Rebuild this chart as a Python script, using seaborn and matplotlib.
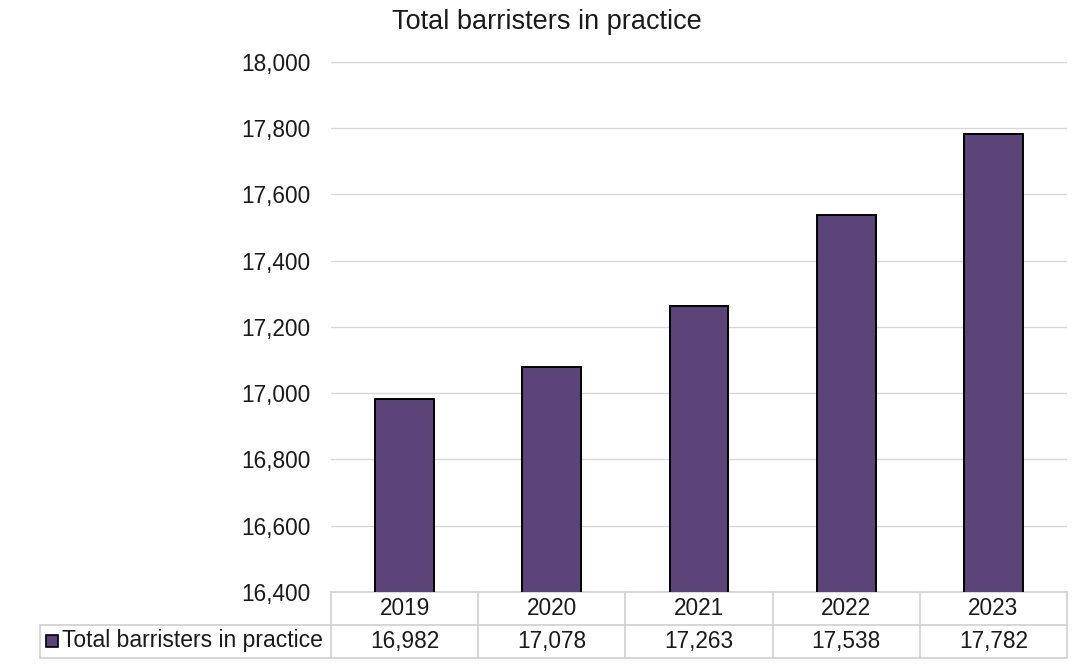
import matplotlib
matplotlib.use("Agg")
import matplotlib.pyplot as plt
import matplotlib.transforms as mtransforms
from matplotlib.patches import Rectangle
import seaborn as sns

years = ["2019", "2020", "2021", "2022", "2023"]
barristers = [16982, 17078, 17263, 17538, 17782]
series_name = "Total barristers in practice"
title = "Total barristers in practice"

bar_color = "#5B4478"
grid_color = "#D9D9D9"
table_color = "#D0D0D0"
text_color = "#1A1A1A"
fs = 16.3

sns.set_style("white")
plt.rcParams["font.family"] = ["Liberation Sans", "DejaVu Sans"]

fig = plt.figure(figsize=(10.75, 6.66), dpi=100)
W, H = 1075, 666
ax = fig.add_axes([331 / W, 1 - 592 / H, (1067 - 331) / W, (592 - 62) / H])

sns.barplot(x=years, y=barristers, color=bar_color, edgecolor="black",
            linewidth=1.4, width=0.4, saturation=1, ax=ax, zorder=3)
ax.set_ylim(16400, 18000)
ax.set_xlim(-0.5, len(years) - 0.5)
ax.set_yticks(range(16400, 18001, 200))
ax.yaxis.set_major_formatter(matplotlib.ticker.FuncFormatter(lambda v, p: f"{int(v):,}"))
ax.tick_params(axis="y", length=0, pad=14.5, labelsize=fs, labelcolor=text_color)
ax.set_xticks([])
ax.set_xlabel("")
ax.set_ylabel("")
ax.grid(axis="y", color=grid_color, linewidth=1, zorder=0)
for s in ["left", "right", "top", "bottom"]:
    ax.spines[s].set_visible(False)

fig.text(547 / W, 1 - 22 / H, title, ha="center", va="center",
         fontsize=19.5, color=text_color)

# data table under the plot area
row_h = 33 / 530
trans = mtransforms.blended_transform_factory(ax.transData, ax.transAxes)
lkw = dict(color=table_color, linewidth=1.2, clip_on=False, zorder=1)
x0, x1 = -0.5, len(years) - 0.5
label_left = ax.transAxes.inverted().transform(fig.transFigure.transform((40 / W, 0)))[0]
ax.plot([x0, x1], [0, 0], transform=trans, **lkw)
ax.plot([label_left, 1], [-row_h, -row_h], transform=ax.transAxes, **lkw)
ax.plot([label_left, 1], [-2 * row_h, -2 * row_h], transform=ax.transAxes, **lkw)
ax.plot([label_left, label_left], [-row_h, -2 * row_h], transform=ax.transAxes, **lkw)
for i in range(len(years) + 1):
    ax.plot([i - 0.5, i - 0.5], [0, -2 * row_h], transform=trans, **lkw)
for i, (yr, val) in enumerate(zip(years, barristers)):
    ax.text(i, -row_h / 2, yr, transform=trans, ha="center", va="center",
            fontsize=fs, color=text_color)
    ax.text(i, -1.5 * row_h, f"{val:,}", transform=trans, ha="center", va="center",
            fontsize=fs, color=text_color)

fig.patches.append(Rectangle((46 / W, 1 - 647 / H), 12 / W, 12 / H,
                             transform=fig.transFigure, facecolor=bar_color,
                             edgecolor="black", linewidth=1.2))
fig.text(62 / W, 1 - 641 / H, series_name, ha="left", va="center",
         fontsize=16.5, color=text_color)

fig.savefig("out.png", dpi=100)
